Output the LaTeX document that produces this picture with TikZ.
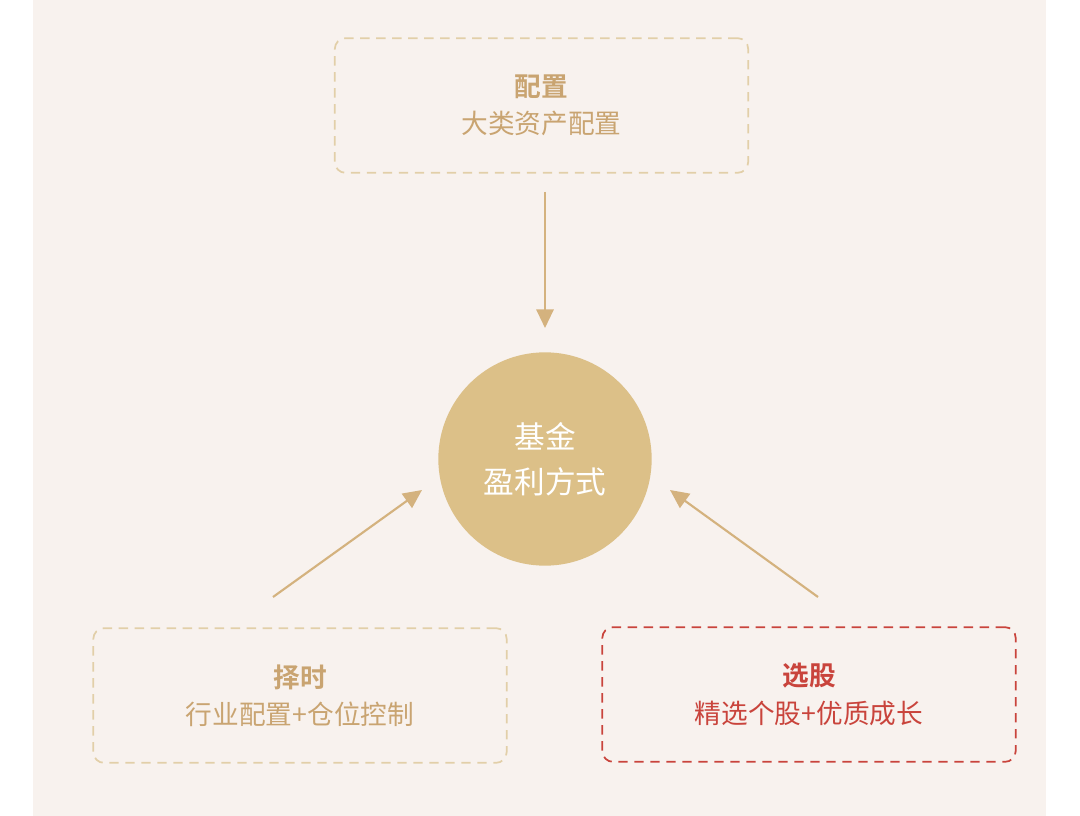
\documentclass[tikz,border=0pt]{standalone}
\usepackage{fontspec}
\newfontfamily\cjk{Noto Sans CJK SC}
\newfontfamily\cjkb{Noto Sans CJK SC Bold}
\usetikzlibrary{arrows.meta}
\definecolor{bg}{HTML}{F8F2EE}
\definecolor{dash}{HTML}{E2CFA8}
\definecolor{gtxt}{HTML}{C9A471}
\definecolor{gcirc}{HTML}{DCC088}
\definecolor{arr}{HTML}{D4B27E}
\definecolor{red}{HTML}{C9443C}
\tikzset{
 box/.style={draw=dash,line width=1.3pt,dash pattern=on 7pt off 5pt,rounded corners=8pt,minimum width=310pt,minimum height=101pt,align=center,text=gtxt,font=\cjk\fontsize{20}{28}\selectfont},
 conn/.style={draw=arr,line width=1.6pt,-{Triangle[length=14pt,width=13pt]}}
}
\begin{document}
\begin{tikzpicture}[x=0.75pt,y=-0.75pt]
\useasboundingbox (0,0) rectangle (1080,816);
\fill[white] (0,0) rectangle (1080,816);
\fill[bg] (33,0) rectangle (1046,816);
\node[box] (top) at (541.5,105.5) {{\cjkb 配置}\\大类资产配置};
\node[box] (left) at (300,695.5) {{\cjkb 择时}\\行业配置+仓位控制};
\node[box,draw=red,text=red] (right) at (809,694.5) {{\cjkb 选股}\\精选个股+优质成长};
\node[circle,fill=gcirc,minimum size=160pt,align=center,text=white,font=\cjk\fontsize{23}{34}\selectfont] (c) at (545,459) {基金\\盈利方式};
\coordinate (t1) at (545,192);
\coordinate (l1) at (273,597);
\coordinate (r1) at (818,597);
\draw[conn] (t1) -- (545,328);
\draw[conn] (l1) -- (422,490);
\draw[conn] (r1) -- (670,490);
\end{tikzpicture}
\end{document}
